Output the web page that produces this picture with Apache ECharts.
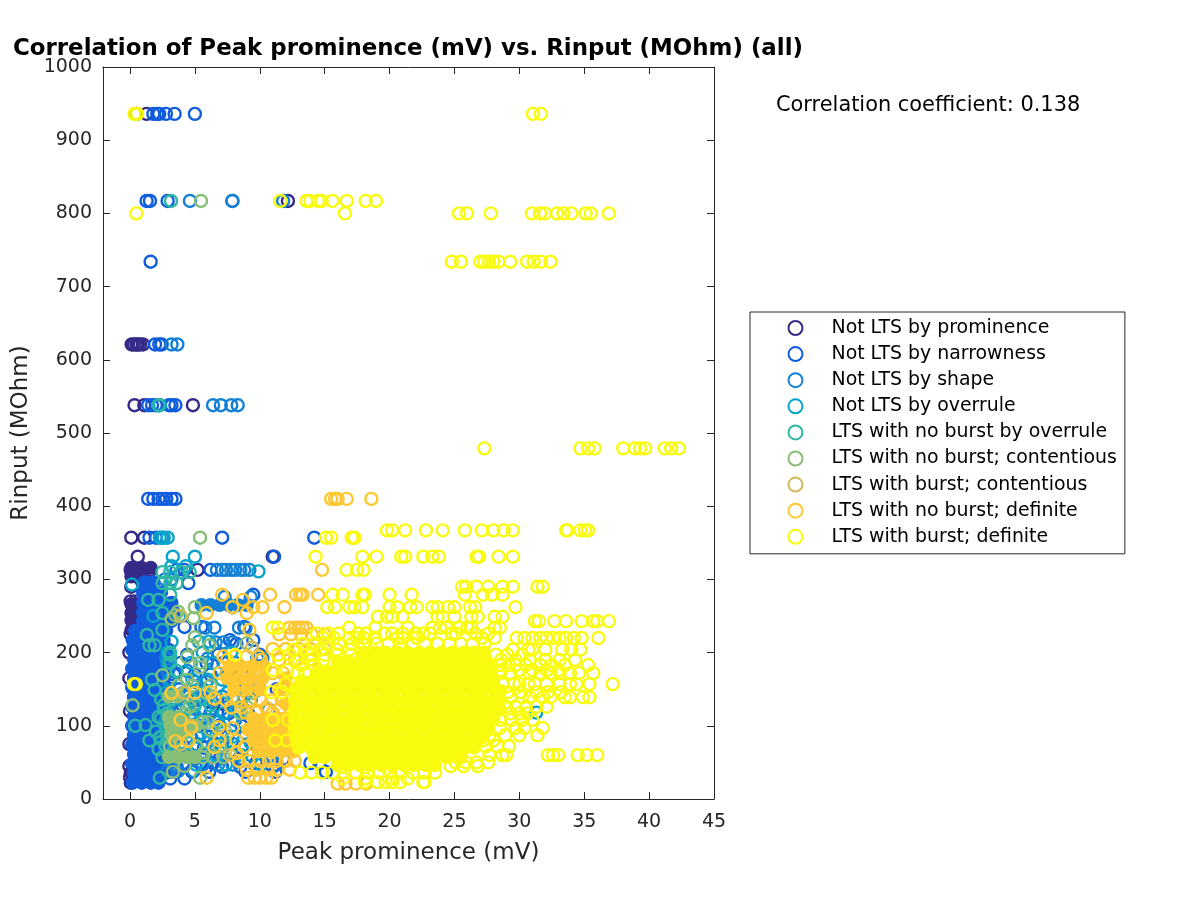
<!DOCTYPE html>
<html><head><meta charset="utf-8">
<script src="https://cdn.jsdelivr.net/npm/echarts@6/dist/echarts.min.js"></script>
<style>html,body{margin:0;background:#fff}#c{width:1200px;height:900px}</style>
</head><body><div id="c"></div>
<script>
const xTicks=[0,5,10,15,20,25,30,35,40,45];
const yTicks=[0,100,200,300,400,500,600,700,800,900,1000];
const names=['Not LTS by prominence','Not LTS by narrowness','Not LTS by shape','Not LTS by overrule','LTS with no burst by overrule','LTS with no burst; contentious','LTS with burst; contentious','LTS with no burst; definite','LTS with burst; definite'];
const colors=['#352A87','#0F5CDD','#1481D6','#06A4CA','#2EB7A4','#87BF77','#D1BB59','#FEC832','#F9FB0E'];
// rows: [Rinput, [prominence values...]]
const prominenceRows=[
[621,[0.13,0.3,0.5,0.6,0.77,1]],[538,[0.35,1.1,4.85]],[357,[0.1,1.1]],[331,[0.6,11]],[817,[12.17]],[936,[0.5,1.28]],
[313,[0.05,0.4,1,1.6,5.2]],[290,[0.1]],[270,[0.05,0.4]],[225,[0.05]],[200,[-0.05]],[165,[-0.05]],[120,[0,6.3]],[75,[-0.05]],[45,[-0.05]],[30,[0]],[70,[11.5]],[85,[14.3]],[130,[7.2]]
];
const prominenceCore=[
[316,[0.1,0.9,1.6]],[304,[0.1,0.8]],[266,[0.1,0.6]],[254,[0.1,0.6]],[244,[0.1]],[231,[0.1]],[22,[0.05]],[36,[0.05]]
];
const narrowRows=[
[936,[1.8,2.1,2.25,2.77,3.44,5]],[817,[1.28,1.54,2.9]],[734,[1.59]],[621,[1.93,2.26,2.44]],[538,[1.4,1.7,2,2.2,3,3.2,3.5]],
[410,[1.4,1.8,2.2,2.5,2.8,3.2,3.5]],[357,[1.5,2,7.1,14.2]],[331,[11.1]],[313,[6.2,4.2,3.6]],[295,[4.5,1.3]],[279,[9.5]],[262,[7.9]],
[235,[4.2,5.5,8.8]],[217,[7.7,9.5]],[212,[8.2]],[197,[10,4.4,6.8]],[186,[7.2,5.9,3.9,8.1]],[170,[8.6,6.2,3.4,5]],[150,[8.1,11.3,3.8,5.6,10]],[135,[6.7,9.3,3.5,5.1]],[117,[6.2,4.8,9.1,3.4,7.6]],[100,[5.3,8.6,11.2,3.1,6.9]],[85,[6.1,7.5,9.8,3.6,4.7]],[70,[4.2,7.1,10.3,11.6,3,5.7,8.6]],[55,[5,6.9,8.4,11.8,3.2,9.9]],[49,[5.4,9.7,13.9,14.6,4.1,6.4]],[44,[5.9,8.5,11,3.6,7.1]],[37,[4.8,8.9,11.2,15.1,3.2,6.1]],[28,[3.1,4.2]]
];
const narrowCore=[
[296,[1.1,1.8]],[282,[1,1.7,2.4]],[268,[1,1.7,2.5,3.2]],[255,[1,1.8,2.6,3.4]],[243,[1,1.7,2.5,3.2]],[230,[0.4,1.2,2,2.8]],[217,[0.2,1,1.8,2.6]],
[204,[0.15,0.9,1.7,2.5,3]],[191,[0.3,1.2,2,2.7]],[178,[0.15,0.9,1.7,2.4,3]],[165,[0.3,1.2,2,2.6]],[152,[0.15,0.9,1.7,2.4,2.9]],[139,[0.3,1.2,2,2.5]],[126,[0.15,0.9,1.7,2.3]],[113,[0.3,1.2,2]],[100,[0.15,0.9,1.7,2.2]],[87,[0.3,1.2,2]],[74,[0.15,0.9,1.7,2.4,3]],[61,[0.3,1.2,2,2.7]],[48,[0.15,0.9,1.7,2.4,3]],[35,[0.3,1.2,2,2.7]],[22,[0.2,0.9,1.6,2.2]]
];
const shapeRows=[
[817,[4.62,7.88,7.9,11.8]],[621,[3.2,3.65]],[538,[6.4,7,7.8,8.3]],[357,[2.5]],[313,[6.7,7.1,7.4,7.8,8.1,8.5,8.8,9.2]],[300,[3.2,2.7]],[276,[7.3,9.3]],[234,[8.4,8.9,5.8,6.5]],
[214,[7.2,7.9,6.6]],[192,[9.8,10.2,2.8,6]],[175,[2.9,4.4,7.6]],[160,[5,9,7.7,3,5.9]],[140,[4.3,6,8.8,2.9,5.3,7.1]],[122,[3.8,7,10.7,3,5.4,8.4]],[108,[4.7,6.5,8.1,10.3,2.8,5.7]],[90,[3.9,5.5,7,8.9,2.6,10.4]],[75,[3.4,6.4,8,11.2,12.3,2.8,5.1]],[60,[5.8,7.8,9.3,10.9,3.6,4.4]],[47,[5.6,7.9,11.3,3.4,6.8]],[38,[3.7,4.9,2.9]]
];
const shapeCore=[[265,[5.5,6.2,6.9,7.6,8.3,9]]];
const overruleRows=[
[538,[2.3]],[357,[2.3,2.6,2.9]],[331,[3.3,5]],[311,[9.9]],[293,[0.15]],[318,[3.2,4.3]],[118,[31.3]],[186,[6.4,2.9,4.7]],[163,[6,4.8,3.1,7.1]],[145,[7.5,4.1,9,5.6,2.8]],[122,[5.8,3.5,2.6,8.2]],[117,[7.2,4.7]],[105,[8.7,6.8,4,2.7,5.4]],[85,[7.9,3,2.4,5.2,6.6]],[77,[5.9,9.3,3.9,7.4]],[60,[8.6,6.6,4.6,3.3,5.4]],[47,[10.1,5.1,7.4]],[215,[5.3,3.2,6.1]],[250,[3.8,1.8]],[200,[2.9,5.6,7.8]]
];
const nbOverruleRows=[
[817,[3.16]],[538,[2.2]],[310,[2.5,3.1,4,4.6]],[295,[2.5,3.1,3.6]],[279,[3.1]],[272,[1.4,2.2]],[254,[2.5]],[231,[2.5]],[224,[1.3]],[210,[1.5,1.9]],[200,[3.1]],[197,[3.1]],[186,[3.1]],[175,[3.6]],[163,[1.7]],[149,[1.9]],[117,[2.9]],[112,[2.2]],[101,[1.2]],[100,[0.4]],[80,[1.5]],[74,[2.7]],[57,[2.5]],[29,[2.3]],[136,[3.2,4.7,2.4]],[92,[3.1,2,4.4]],[68,[3.4,3.9,2.2]],[128,[5,6.2,2.6]],[110,[2.4,3.3,4.1]],[84,[2.3,2.9,3.7]]
];
const contentiousRows=[
[817,[5.47]],[357,[5.4]],[262,[5]],[256,[3.7]],[251,[3.5]],[246,[3.2]],[247,[4.9]],[221,[5]],[213,[9]],[210,[4.8]],[194,[4.4]],[186,[5.4]],[180,[5.4]],[169,[2.5]],[163,[4.4]],[145,[9.5,5.9]],[139,[7.9]],[128,[0.2]],[126,[9,4.6]],[117,[8.5,4.2]],[94,[6.2,7.3]],[63,[8.2,5.7]],[57,[6.4,7.2,5.6]],[37,[3.3]],[29,[5.4]],[155,[3.7,6.2,4.8]],[72,[6.9,5.1,3.1]],[105,[6,5.6]],[210,[6.1]],[45,[4.2]]
];
const contentiousCore=[
[140,[3,3.7]],[112,[3,3.7]],[100,[3.1,3.8,4.5,5.1]],[88,[3.2,4]],[57,[3,3.7,4.4,5]]
];
const burstContRows=[[250,[3.9]],[207,[9.4]],[170,[7.4]],[145,[4.2]],[120,[9.8]],[100,[4.7]],[75,[3.9]],[60,[7.7]]];
const noBurstDefRows=[
[410,[15.5,15.8,16,16.7,18.6]],[357,[17.1]],[313,[14.8]],[279,[7.1,10.8,12.8,13.1,13.3,14.5]],[272,[8.7]],[262,[7.9,9.5,10.2,11.9]],[254,[5.9,9]],[234,[12.3,12.7,13,13.3,13.6]],[231,[9.2]],
[225,[11.5,12.4,13.2,14,15]],[205,[11,12,13,13.9,15]],[190,[11.5,12.7,14,7.5,10.1]],[145,[3.2,5]],[146,[6.2]],[137,[6.5]],[108,[3.9]],[98,[6.8]],[97,[4.7,7.9]],[80,[6.9,8.2]],[79,[3.5,4.5]],[71,[6.5,8.8]],[63,[8.2]],[29,[5.9,9.1,9.6,10,10.5,10.9]],
[195,[7.2,8.1,9,9.9]],[172,[6.9,11,11.8]],[135,[7.4,8.3,9.2,10.1,10.9,11.7]],[125,[7.8,8.6,10.5,11.6]],[118,[8.9,9.7,11]],[52,[8.4,9.1,10,10.7,11.3,12,12.7]],[40,[9,9.8,10.6,11.4,12.3]],[21,[16,16.6,17.4,18.2]]
];
const noBurstDefCore=[
[180,[7.7,8.6,9.5,10.4]],[165,[7.5,8.4,9.3,10.2,12]],[150,[8,9,10,11.5,12.5]],[130,[12]],[110,[9.5,10.4,11.3,12.2]],[95,[9.1,10,10.9,11.8]],[80,[9.5,10.4,11.3,12.2]],[65,[9.9,10.8,11.7,12.6]]
];
const burstDefRows=[
[936,[0.35,0.55,31.05,31.66]],[817,[11.58,13.6,13.87,14.5,14.77,15.6,16.7,18.16,18.95]],[800,[0.49,16.56,25.35,25.96,27.8,30.97,31.6,31.97,32.9,33.4,34,35.1,35.5,36.9]],
[734,[24.8,25.5,27,27.3,27.66,28,28.4,29.3,30.6,31.1,31.66,32.4]],[479,[27.3,34.7,35.3,35.8,38,38.9,39.3,39.7,41.2,41.7,42.3]],
[367,[19.8,20.2,21.2,22.8,24.1,25.8,27.1,28,28.8,29.5,33.6,33.7,34.7,35.05,35.3]],[357,[15.1,15.5,17.1,17.3]],[331,[14.3,17.9,19,20.9,21.2,22.6,23.3,23.8,26.7,26.9,28.4,29.5]],[313,[16.7,17.5,18]],
[290,[25.6,25.9,26.7,27.6,28.7,29.5,31.4,31.8]],[279,[15.6,16.4,17.9,18.1,20,21.7,25.8,27.2,27.9,28.7]],[262,[15.2,15.8,16.9,17.3,17.9,20,20.6,21.6,22.1,23.3,23.7,24.5,25,26.2,26.6,29.7]],
[249,[19.1,19.8,20.2,21,23.7,24.1,25,26.3,26.8,28.1,28.7]],[243,[31.2,31.5,32.7,33.6,34.8,35.7,36,36.9]],[234,[11,11.4,16.9,18.9,21.4,23.3,23.9,24.4,25.4,26,26.3,28.1,28.5]],
[226,[14.4,15.3,16.1,17.6,18.2,19.6,20.2,21,22,22.6,23.1,24.8,25.1,26.6,27.6]],
[220,[14.9,15.7,16.9,17.5,18,18.9,20.6,21,22.1,27.1,28.1,29.8,30.4,31,31.6,32.1,32.6,33.1,33.6,34.2,34.8,36.1]],
[212,[13.3,14.2,15.2,16.1,17.1,18,19,19.9,20.8,21.8,22.7,23.7,24.6,25.5,26.4,27.3]],
[204,[12.6,13.6,14.7,15.9,16.9,29.5,30.7,31,32,33.3,34,34.7]],[197,[8.1,11.4,12.3,14,15,16,17,28.2,29.1,30.2]],[190,[12.9,13.8,14.9,28.6,29.7,30.8,32,33.1,34.3]],[183,[13.2,14.2,28.5,29.2,29.7,30.5,31.6,32.5,33.5,35.3]],[176,[11,12.1,28.6,30,31,32.1,33]],
[172,[12.9,13.5,28.5,29.3,30.8,31.6,32.4,33.1,33.9,34.6,35.7]],[157,[0.3,0.45,12,28.7,29.6,30,30.7,31.2,32.1,33.1,33.9,34.4,35.4,37.2]],[146,[10.9,11.7,29.1,30.1,31.3,32.2,33.2]],[139,[29.3,30.2,30.8,31.8,32.4,33.5,33.9,34.9,35.4]],
[126,[29,29.7,30.5,31.3,32.1]],[117,[29.3,30,30.6]],[108,[11,12.2,28.5,29.4,30.2,31]],[97,[28.5,29.7,30.4,31.8]],[87,[27.7,28.9,30,31.4]],[80,[11.2,12.1,27.2,28]],[72,[26.5,27.4,28.3,29.2]],
[60,[27.7,28.7,29,32.2,32.6,33,34.5,35.2,36]],[50,[25.1,25.9,26.7,27.6]],[45,[24.7,25.7,26.8]],[36,[13.1,14,14.8,15.6,16.5,17.4,18.3,19.2,20,20.9,21.8,22.7,23.5]],[28,[16.4,18.1,20.2,21.4]],[23,[18.1,19.1,19.7,20.2,20.8,22.6,22.7]]
];
const burstDefCore=[
[200,[18,18.9,19.7,20.6,21.4,22.3,23.1,24,24.8,25.7,26.5,27.3]],
[187,[16,16.9,17.7,18.6,19.4,20.3,21.1,22,22.8,23.7,24.5,25.4,26.2,27.1,27.5]],
[174,[14.5,15.3,16.2,17,17.9,18.7,19.6,20.4,21.3,22.1,23,23.8,24.7,25.5,26.4,27.2,27.8]],
[161,[13.2,14,14.9,15.7,16.6,17.4,18.3,19.1,20,20.8,21.7,22.5,23.4,24.2,25.1,25.9,26.8,27.6,28]],
[148,[12.8,13.6,14.5,15.3,16.2,17,17.9,18.7,19.6,20.4,21.3,22.1,23,23.8,24.7,25.5,26.4,27.2,28.1,28.5]],
[135,[12.7,13.5,14.4,15.2,16.1,16.9,17.8,18.6,19.5,20.3,21.2,22,22.9,23.7,24.6,25.4,26.3,27.1,28,28.5]],
[122,[12.7,13.6,14.4,15.3,16.1,17,17.8,18.7,19.5,20.4,21.2,22.1,22.9,23.8,24.6,25.5,26.3,27.2,28,28.5]],
[109,[12.7,13.5,14.4,15.2,16.1,16.9,17.8,18.6,19.5,20.3,21.2,22,22.9,23.7,24.6,25.4,26.3,27.1,28]],
[96,[12.7,13.6,14.4,15.3,16.1,17,17.8,18.7,19.5,20.4,21.2,22.1,22.9,23.8,24.6,25.5,26.3,27.2,27.5]],
[83,[12.8,13.6,14.5,15.3,16.2,17,17.9,18.7,19.6,20.4,21.3,22.1,23,23.8,24.7,25.5,26.4,27]],
[70,[13,13.9,14.7,15.6,16.4,17.3,18.1,19,19.8,20.7,21.5,22.4,23.2,24.1,24.9,25.8,26.5]],
[57,[14.2,15,15.9,16.7,17.6,18.4,19.3,20.1,21,21.8,22.7,23.5,24.4,25.2,25.5]],
[46,[16,16.8,17.7,18.5,19.4,20.2,21.1,21.9,22.8,23.5]]
];
const ringTables=[prominenceRows,narrowRows,shapeRows,overruleRows,nbOverruleRows,contentiousRows,burstContRows,noBurstDefRows,burstDefRows];
const coreTables=[prominenceCore,narrowCore,shapeCore,[],[],contentiousCore,[],noBurstDefCore,burstDefCore];

const toPoints=t=>t.flatMap(([y,xs])=>xs.map(x=>[x,y]));
const axisCol='#262626', font='DejaVu Sans', xMin=-2.08;
const series=[];
names.forEach((n,i)=>{
  series.push({type:'scatter',name:n,data:toPoints(ringTables[i]),symbol:'circle',symbolSize:12,silent:true,
    itemStyle:{color:'none',borderColor:colors[i],borderWidth:2.4,opacity:1}});
  if(coreTables[i].length) series.push({type:'scatter',name:n,data:toPoints(coreTables[i]),symbol:'circle',symbolSize:14,silent:true,
    itemStyle:{color:colors[i],opacity:1}});
});
const xBase={type:'value',min:xMin,max:45,splitLine:{show:false},axisLine:{show:true,onZero:false,lineStyle:{color:axisCol}},
  axisTick:{show:true,inside:true,length:7,customValues:xTicks,lineStyle:{color:axisCol}}};
const yBase={type:'value',min:0,max:1000,splitLine:{show:false},axisLine:{show:true,onZero:false,lineStyle:{color:axisCol}},
  axisTick:{show:true,inside:true,length:7,customValues:yTicks,lineStyle:{color:axisCol}}};
const chart=echarts.init(document.getElementById('c'),null,{renderer:'canvas'});
chart.setOption({
  animation:false,backgroundColor:'#fff',
  textStyle:{fontFamily:font},
  title:[
    {text:'Correlation of Peak prominence (mV) vs. Rinput (MOhm) (all)',left:13,top:38,padding:0,textStyle:{fontFamily:font,fontSize:22.9,fontWeight:'bold',color:'#000'}},
    {text:'Correlation coefficient: 0.138',left:776,top:95,padding:0,textStyle:{fontFamily:font,fontSize:20.9,fontWeight:'normal',color:'#000'}}
  ],
  grid:{left:103,right:486,top:67,bottom:101,containLabel:false},
  xAxis:[
    {...xBase,position:'bottom',name:'Peak prominence (mV)',nameLocation:'middle',nameGap:43,nameTextStyle:{fontFamily:font,fontSize:23,color:axisCol},
      axisLabel:{show:true,customValues:xTicks,margin:14,fontFamily:font,fontSize:19,color:axisCol,formatter:v=>String(v)}},
    {...xBase,position:'top',axisLabel:{show:false}}
  ],
  yAxis:[
    {...yBase,position:'left',name:'Rinput (MOhm)',nameLocation:'middle',nameGap:70,nameTextStyle:{fontFamily:font,fontSize:23,color:axisCol},
      axisLabel:{show:true,customValues:yTicks,margin:11,fontFamily:font,fontSize:19,color:axisCol,formatter:v=>String(v)}},
    {...yBase,position:'right',axisLabel:{show:false}}
  ],
  legend:{show:true,data:names,orient:'vertical',left:750,top:312,padding:[6.5,8,7.5,36],itemWidth:62,itemHeight:14,itemGap:7.1,
    borderColor:axisCol,borderWidth:1,backgroundColor:'#fff',selectedMode:false,
    textStyle:{fontFamily:font,fontSize:18.9,color:'#000'}},
  series
});
</script></body></html>
